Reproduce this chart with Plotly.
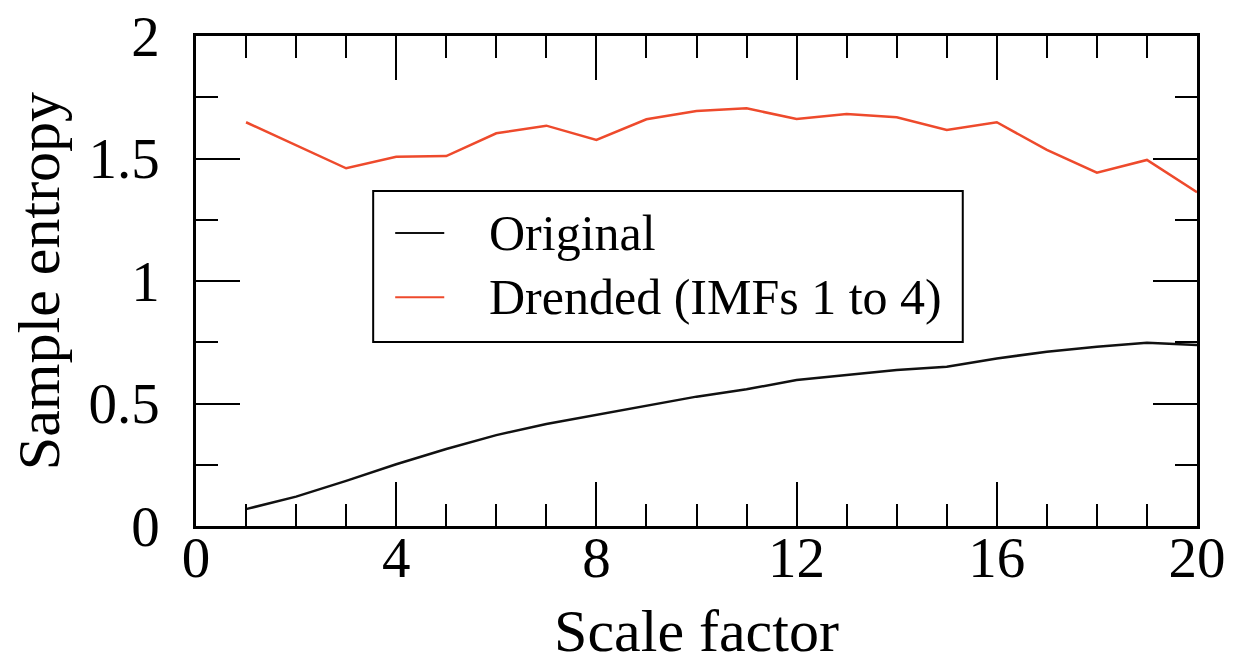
import plotly.graph_objects as go

# Multiscale sample entropy versus scale factor
scale = list(range(1, 21))
original = [0.069, 0.120, 0.184, 0.252, 0.314, 0.371, 0.416, 0.453, 0.490, 0.528,
            0.558, 0.596, 0.616, 0.637, 0.650, 0.684, 0.711, 0.732, 0.748, 0.739]
detrended = [1.648, 1.555, 1.460, 1.507, 1.510, 1.603, 1.634, 1.576, 1.660, 1.694,
             1.705, 1.661, 1.682, 1.668, 1.616, 1.648, 1.535, 1.442, 1.494, 1.362]

series_names = ["Original", "Drended (IMFs 1 to 4)"]
series_colors = ["#111111", "#ee4a2c"]

x_ticks = [0, 4, 8, 12, 16, 20]
y_ticks = [0, 0.5, 1, 1.5, 2]
y_tick_text = ["0", "0.5", "1", "1.5", "2"]

FONT = "Liberation Serif, Times New Roman, serif"

fig = go.Figure()
for name, vals, color in zip(series_names, [original, detrended], series_colors):
    fig.add_trace(go.Scatter(x=scale, y=vals, mode="lines", name=name,
                             line=dict(color=color, width=2.5), showlegend=False))

axis_common = dict(
    showgrid=False, zeroline=False, automargin=False,
    showline=True, linecolor="black", linewidth=2.5, mirror="allticks",
    ticks="inside", ticklen=44, tickwidth=2, tickcolor="black",
    tickfont=dict(family=FONT, size=57, color="black"),
)

fig.update_xaxes(
    range=[0, 20], tickmode="array", tickvals=x_ticks,
    minor=dict(ticks="inside", ticklen=22, tickwidth=2, tickcolor="black", dtick=1),
    title=dict(text="Scale factor", font=dict(family=FONT, size=60, color="black"), standoff=27),
    ticklabelstandoff=-20,
    **axis_common,
)
fig.update_yaxes(
    range=[0, 2], tickmode="array", tickvals=y_ticks, ticktext=y_tick_text,
    minor=dict(ticks="inside", ticklen=22, tickwidth=2, tickcolor="black", dtick=0.25),
    title=dict(text="Sample entropy", font=dict(family=FONT, size=60, color="black"), standoff=10),
    ticklabelstandoff=22,
    **axis_common,
)

# Legend box with line samples and labels, placed in plot-area (paper) coordinates
box = dict(x0=0.177, x1=0.766, y0=0.3755, y1=0.6837)
sample_x = (0.199, 0.248)
text_x = 0.2907
row_y = [0.598, 0.467]

fig.add_shape(type="rect", xref="paper", yref="paper", **box,
              line=dict(color="black", width=2), fillcolor="white", layer="above")
for name, color, yy in zip(series_names, series_colors, row_y):
    fig.add_shape(type="line", xref="paper", yref="paper",
                  x0=sample_x[0], x1=sample_x[1], y0=yy, y1=yy,
                  line=dict(color=color, width=2), layer="above")
    fig.add_annotation(x=text_x, y=yy, xref="paper", yref="paper",
                       text=name, showarrow=False, xanchor="left", yanchor="middle",
                       font=dict(family=FONT, size=50, color="black"))

fig.update_layout(
    width=1233, height=664,
    margin=dict(l=196, r=36, t=36, b=138),
    paper_bgcolor="white", plot_bgcolor="white",
    showlegend=False,
)

fig.write_html("out.html")
